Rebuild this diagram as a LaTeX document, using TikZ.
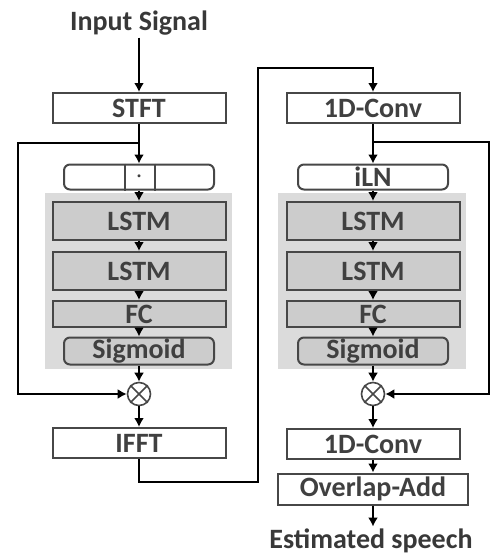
\documentclass[tikz,border=0pt]{standalone}
\usepackage{fontspec}
\setmainfont{Carlito}
\usetikzlibrary{arrows.meta, positioning, calc}
\colorlet{panelgray}{black!14}
\colorlet{boxgray}{black!20}
\colorlet{edgegray}{black!72}
\tikzset{
  blk/.style={draw=edgegray, line width=1pt, fill=white, minimum width=86.5pt, minimum height=15pt,
    inner sep=0pt, font=\bfseries\fontsize{14}{15}\selectfont, text=black!75},
  gblk/.style={blk, fill=boxgray},
  rblk/.style={blk, rounded corners=3pt, minimum width=75pt},
  flow/.style={line width=1.4pt, -{Latex[length=4.5pt,width=5pt]}},
  mult/.style={circle, draw=edgegray, line width=0.8pt, inner sep=0pt, minimum size=11.5pt, fill=white},
  lbl/.style={font=\bfseries\fontsize{14}{15}\selectfont, text=black!78, inner sep=1pt}
}

\begin{document}
\begin{tikzpicture}[x=0.5pt, y=-0.5pt]
    \useasboundingbox (0,0) rectangle (491,558);
    % gray panels behind the two masking stacks
    \fill[panelgray] (45,193) rectangle (232,369);
    \fill[panelgray] (278,193) rectangle (466,369);

    % left stack
    \node[lbl] (insig) at (139,23) {Input Signal};
    \node[blk] (stft) at (139,108) {STFT};
    \node[rblk, minimum height=12.5pt] (nrm) at (139,177) {$\cdot$};
    \draw[edgegray, line width=1pt] ($(nrm.north)+(-14,0)$) -- ($(nrm.south)+(-14,0)$)
                                    ($(nrm.north)+(16,0)$) -- ($(nrm.south)+(16,0)$);
    \node[gblk, minimum height=19pt] (lstmA) at (139,221) {LSTM};
    \node[gblk, minimum height=19pt] (lstmB) at (139,271) {LSTM};
    \node[gblk, minimum height=13pt] (fcL) at (139,314) {FC};
    \node[rblk, fill=boxgray, minimum height=13.5pt] (sigL) at (139,351) {Sigmoid};
    \node[mult] (mulL) at (139,394) {};
    \node[blk] (ifft) at (139,443) {IFFT};

    % right stack
    \node[blk] (convA) at (373,108) {1D-Conv};
    \node[rblk, minimum height=12.5pt] (iln) at (373,177) {iLN};
    \node[gblk, minimum height=19pt] (lstmC) at (373,221) {LSTM};
    \node[gblk, minimum height=19pt] (lstmD) at (373,271) {LSTM};
    \node[gblk, minimum height=13pt] (fcR) at (373,314) {FC};
    \node[rblk, fill=boxgray, minimum height=13.5pt] (sigR) at (373,351) {Sigmoid};
    \node[mult] (mulR) at (373,394) {};
    \node[blk] (convB) at (373,444) {1D-Conv};
    \node[blk, minimum width=95pt, minimum height=15.5pt] (ola) at (373,489) {Overlap-Add};
    \node[lbl] (outsig) at (371,541) {Estimated speech};

    \foreach \m in {mulL, mulR} {
      \draw[edgegray, line width=0.8pt] (\m.north west) -- (\m.south east) (\m.north east) -- (\m.south west);
    }

    \coordinate (brL) at (139,143);
    \coordinate (loopL) at (18,394);
    \coordinate (hopA) at (258,482);
    \coordinate (hopB) at (258,68);
    \coordinate (brR) at (373,142);
    \coordinate (loopR) at (489,394);

    \draw[flow] (insig) -- (stft);
    \draw[flow] (stft) -- (nrm);
    \draw[flow] (brL) -| (loopL) -- (mulL);
    \draw[flow] (nrm) -- (lstmA);
    \draw[flow] (lstmA) -- (lstmB);
    \draw[flow] (lstmB) -- (fcL);
    \draw[flow] (fcL) -- (sigL);
    \draw[flow] (sigL) -- (mulL);
    \draw[flow] (mulL) -- (ifft);
    \draw[flow] (ifft.south) |- (hopA) -- (hopB) -| (convA.north);

    \draw[flow] (convA) -- (iln);
    \draw[flow] (brR) -| (loopR) -- (mulR);
    \draw[flow] (iln) -- (lstmC);
    \draw[flow] (lstmC) -- (lstmD);
    \draw[flow] (lstmD) -- (fcR);
    \draw[flow] (fcR) -- (sigR);
    \draw[flow] (sigR) -- (mulR);
    \draw[flow] (mulR) -- (convB);
    \draw[flow] (convB) -- (ola);
    \draw[flow] (ola.south) -- (ola.south |- outsig.north);
\end{tikzpicture}
\end{document}
